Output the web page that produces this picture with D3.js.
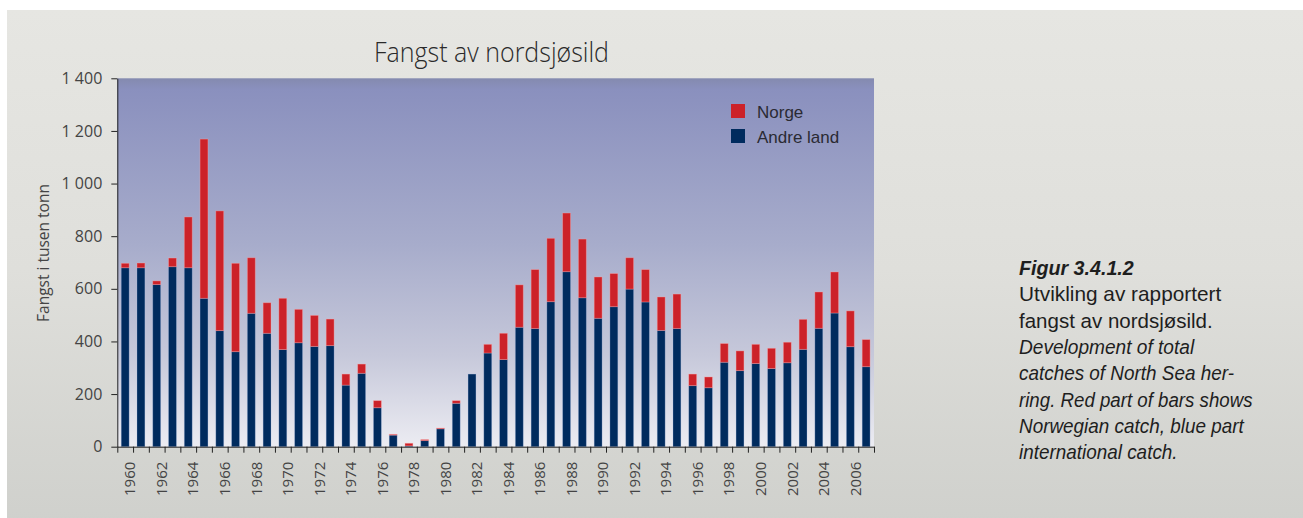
<!DOCTYPE html>
<html>
<head>
<meta charset="utf-8">
<script src="https://cdn.jsdelivr.net/npm/d3@7"></script>
<style>
  body { margin: 0; background: #ffffff; }
  svg { display: block; }
</style>
</head>
<body>
<svg id="chart" width="1303" height="518"></svg>
<script>
// Fangst av nordsjøsild, 1960-2007 (tusen tonn)
var years = [1960, 1961, 1962, 1963, 1964, 1965, 1966, 1967, 1968, 1969,
  1970, 1971, 1972, 1973, 1974, 1975, 1976, 1977, 1978, 1979,
  1980, 1981, 1982, 1983, 1984, 1985, 1986, 1987, 1988, 1989,
  1990, 1991, 1992, 1993, 1994, 1995, 1996, 1997, 1998, 1999,
  2000, 2001, 2002, 2003, 2004, 2005, 2006, 2007];

// blue part: Andre land
var andreLand = [680, 680, 616, 684, 680, 564, 441, 361, 507, 431,
  369, 395, 381, 384, 234, 279, 148, 44, 3, 23,
  68, 165, 276, 356, 331, 454, 449, 551, 665, 566,
  488, 532, 599, 550, 442, 449, 232, 224, 321, 289,
  316, 297, 319, 370, 450, 508, 380, 304];

// red part: Norge
var norge = [17, 18, 14, 33, 193, 605, 455, 336, 211, 116,
  195, 127, 118, 101, 42, 35, 27, 3, 10, 4,
  3, 10, 0, 33, 100, 161, 224, 241, 223, 223,
  157, 126, 119, 123, 127, 131, 44, 41, 71, 75,
  73, 77, 78, 114, 138, 156, 136, 103];

var yTicks = [0, 200, 400, 600, 800, 1000, 1200, 1400];
var xLabelYears = years.filter(function (y) { return y % 2 === 0; });

var seriesNames = ["andre", "norge"];
var seriesColors = { andre: "#002b5e", norge: "#cc2229" };
var legendItems = [["Norge", "#cc2229"], ["Andre land", "#002b5e"]];

// text, weight, style, size, horizontal squeeze
var captionLines = [
  ["Figur 3.4.1.2", "bold", "italic", 20.5, 0.96],
  ["Utvikling av rapportert", "normal", "normal", 20.8, 1],
  ["fangst av nordsjøsild.", "normal", "normal", 20.5, 1],
  ["Development of total", "normal", "italic", 21, 0.91],
  ["catches of North Sea her-", "normal", "italic", 21, 0.9],
  ["ring. Red part of bars shows", "normal", "italic", 21, 0.89],
  ["Norwegian catch, blue part", "normal", "italic", 21, 0.9],
  ["international catch.", "normal", "italic", 21, 0.9]
];

var table = years.map(function (y, i) {
  return { year: y, andre: andreLand[i], norge: norge[i] };
});

var svg = d3.select("#chart");
var defs = svg.append("defs");

var pageGrad = defs.append("linearGradient").attr("id", "pageGrad")
  .attr("x1", 0).attr("y1", 0).attr("x2", 0).attr("y2", 1);
pageGrad.append("stop").attr("offset", 0).attr("stop-color", "#e6e6e2");
pageGrad.append("stop").attr("offset", 0.5).attr("stop-color", "#dfdfdb");
pageGrad.append("stop").attr("offset", 1).attr("stop-color", "#cfd0cc");

var plotGrad = defs.append("linearGradient").attr("id", "plotGrad")
  .attr("x1", 0).attr("y1", 0).attr("x2", 0).attr("y2", 1);
plotGrad.append("stop").attr("offset", 0).attr("stop-color", "#848aaf");
plotGrad.append("stop").attr("offset", 0.03).attr("stop-color", "#8a90be");
plotGrad.append("stop").attr("offset", 0.45).attr("stop-color", "#a7accb");
plotGrad.append("stop").attr("offset", 0.75).attr("stop-color", "#c6c8da");
plotGrad.append("stop").attr("offset", 1).attr("stop-color", "#ececf2");

svg.append("rect").attr("x", 7).attr("y", 10).attr("width", 1303).attr("height", 518)
  .attr("fill", "url(#pageGrad)");

var plotLeft = 117.3, plotRight = 874, plotTop = 78.3, plotBottom = 446.7;

var x = d3.scaleBand().domain(years).range([plotLeft, plotRight])
  .paddingInner(0.5).paddingOuter(0.25);
var xEdges = d3.scaleLinear().domain([1960, 2008]).range([plotLeft, plotRight]);
var y = d3.scaleLinear().domain([0, 1400]).range([plotBottom, plotTop]);

svg.append("rect").attr("x", plotLeft).attr("y", plotTop)
  .attr("width", plotRight - plotLeft).attr("height", plotBottom - plotTop)
  .attr("fill", "url(#plotGrad)");

// stacked bars
var stack = d3.stack().keys(seriesNames);
var layers = stack(table);

svg.append("g").selectAll("g").data(layers).enter().append("g")
  .attr("fill", function (d) { return seriesColors[d.key]; })
  .attr("stroke", function (d) { return d.key === "norge" ? "rgba(255,170,170,0.45)" : "rgba(170,190,230,0.35)"; })
  .attr("stroke-width", 0.8)
  .selectAll("rect").data(function (d) { return d; }).enter().append("rect")
  .attr("x", function (d) { return x(d.data.year); })
  .attr("width", x.bandwidth())
  .attr("y", function (d) { return y(d[1]); })
  .attr("height", function (d) { return y(d[0]) - y(d[1]); });

// axes
var fmt = d3.formatLocale({ decimal: ",", thousands: " ", grouping: [3], currency: ["", ""] }).format(",d");

var yAxis = svg.append("g").attr("transform", "translate(" + plotLeft + ",0)")
  .call(d3.axisLeft(y).tickValues(yTicks).tickFormat(fmt).tickSize(6).tickPadding(9).tickSizeOuter(0));
yAxis.select(".domain").attr("stroke", "#222");
yAxis.selectAll(".tick line").attr("stroke", "#222");
yAxis.selectAll("text").attr("font-family", "'Open Sans', sans-serif")
  .attr("font-size", 16).attr("fill", "#444");

var edgeTicks = years.concat([2008]);
var xTickAxis = svg.append("g").attr("transform", "translate(0," + plotBottom + ")")
  .call(d3.axisBottom(xEdges).tickValues(edgeTicks).tickFormat("").tickSize(6).tickSizeOuter(0));
xTickAxis.select(".domain").attr("stroke", "#222");
xTickAxis.selectAll(".tick line").attr("stroke", "#222");

var xLabelAxis = svg.append("g").attr("transform", "translate(0," + plotBottom + ")")
  .call(d3.axisBottom(x).tickValues(xLabelYears).tickSize(0));
xLabelAxis.select(".domain").remove();
xLabelAxis.selectAll("text")
  .attr("transform", "rotate(-90)")
  .attr("text-anchor", "end")
  .attr("x", -15)
  .attr("y", 5)
  .attr("dy", "0.35em")
  .attr("font-family", "'Open Sans', sans-serif")
  .attr("font-size", 15)
  .attr("fill", "#444");

// title
svg.append("text").attr("x", 491.5).attr("y", 62).attr("text-anchor", "middle")
  .attr("font-family", "'Open Sans', sans-serif").attr("font-weight", 300)
  .attr("font-size", 28).attr("fill", "#2a2a2a")
  .attr("textLength", 235).attr("lengthAdjust", "spacingAndGlyphs")
  .text("Fangst av nordsjøsild");

// y axis title
svg.append("text").attr("transform", "translate(49,253) rotate(-90)")
  .attr("text-anchor", "middle")
  .attr("font-family", "'Open Sans', sans-serif")
  .attr("font-size", 15.5).attr("fill", "#444")
  .text("Fangst i tusen tonn");

// legend
var legend = svg.append("g").attr("transform", "translate(731,104)");
legendItems.forEach(function (item, i) {
  var g = legend.append("g").attr("transform", "translate(0," + (i * 25) + ")");
  g.append("rect").attr("width", 14).attr("height", 14).attr("fill", item[1]);
  g.append("text").attr("x", 26).attr("y", 13.5)
    .attr("font-family", "'Liberation Sans', Arial, sans-serif")
    .attr("font-size", 17).attr("fill", "#2a2a33")
    .text(item[0]);
});

// caption
var caption = svg.append("g").attr("transform", "translate(1019,0)");
captionLines.forEach(function (line, i) {
  caption.append("text")
    .attr("transform", "translate(0," + (275 + i * 26.3) + ") scale(" + line[4] + ",1)")
    .attr("font-family", "'Liberation Sans', Arial, sans-serif")
    .attr("font-weight", line[1]).attr("font-style", line[2])
    .attr("font-size", line[3]).attr("fill", "#1e1e1e")
    .text(line[0]);
});
</script>
</body>
</html>
